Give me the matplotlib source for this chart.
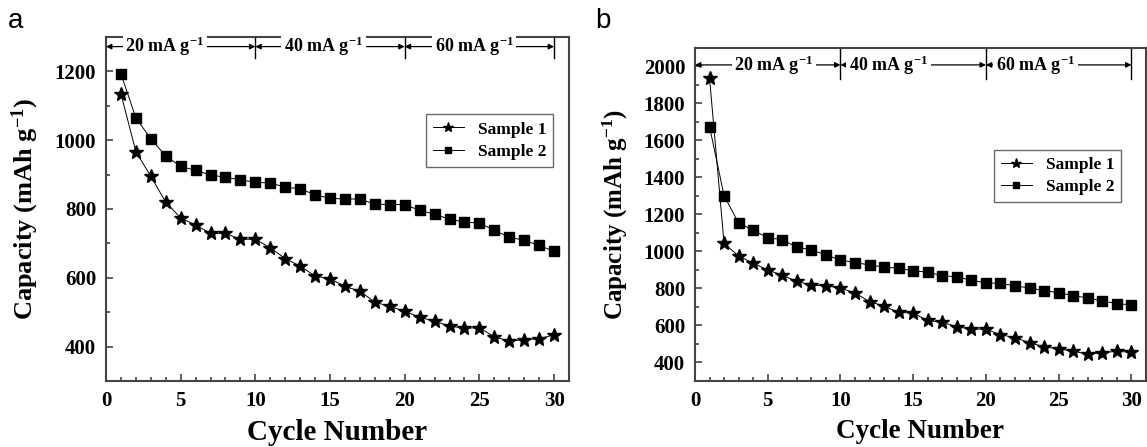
import matplotlib
matplotlib.use("Agg")
import matplotlib.pyplot as plt
from matplotlib.ticker import MultipleLocator

cycles = list(range(1, 31))

a_sample1 = [1135, 967, 895, 820, 774, 753, 729, 729, 712, 712,
             687, 656, 634, 605, 597, 575, 561, 529, 517, 502,
             486, 473, 460, 453, 455, 428, 416, 420, 423, 434]
a_sample2 = [1193, 1065, 1004, 954, 924, 912, 899, 892, 885, 877,
             876, 863, 859, 841, 831, 829, 829, 814, 813, 813,
             796, 785, 770, 762, 759, 738, 718, 709, 694, 677]

b_sample1 = [1937, 1043, 975, 936, 900, 871, 838, 818, 814, 802,
             775, 729, 704, 671, 666, 627, 616, 593, 580, 580,
             550, 534, 507, 484, 473, 461, 445, 452, 461, 454]
b_sample2 = [1674, 1301, 1153, 1114, 1074, 1063, 1022, 1009, 980, 954,
             939, 927, 915, 909, 895, 888, 868, 863, 843, 830,
             827, 814, 802, 788, 777, 761, 748, 732, 718, 711]

rate_labels = ["20 mA g$^{\\mathbf{-1}}$", "40 mA g$^{\\mathbf{-1}}$", "60 mA g$^{\\mathbf{-1}}$"]
rate_bounds = [0, 10, 20, 30]
series_labels = ["Sample 1", "Sample 2"]

SERIF = "Liberation Serif"
plt.rcParams["font.family"] = SERIF
plt.rcParams["mathtext.fontset"] = "custom"
plt.rcParams["mathtext.rm"] = "Liberation Serif:bold"
plt.rcParams["mathtext.it"] = "Liberation Serif:bold"
plt.rcParams["mathtext.bf"] = "Liberation Serif:bold"

fig = plt.figure(figsize=(11.47, 4.47), dpi=100)
ax_a = fig.add_axes([0.0924, 0.1477, 0.4037, 0.7696])
ax_b = fig.add_axes([0.6059, 0.1477, 0.3932, 0.7456])

spine_col = "#444444"


def style(ax, ylim, ymajor, tick_fs, label_fs, xlabel_fs):
    ax.set_xlim(0, 31)
    ax.set_ylim(*ylim)
    ax.xaxis.set_major_locator(MultipleLocator(5))
    ax.xaxis.set_minor_locator(MultipleLocator(1))
    ax.yaxis.set_major_locator(MultipleLocator(ymajor))
    ax.yaxis.set_minor_locator(MultipleLocator(ymajor / 2))
    ax.tick_params(which="both", direction="in", top=False, right=False,
                   color=spine_col, width=1.2)
    ax.tick_params(which="major", length=5, labelsize=tick_fs, pad=7)
    ax.tick_params(which="minor", length=3)
    for lab in ax.get_xticklabels() + ax.get_yticklabels():
        lab.set_fontweight("bold")
    for s in ax.spines.values():
        s.set_color(spine_col)
        s.set_linewidth(1.5)
    ax.set_xlabel("Cycle Number", fontsize=xlabel_fs, fontweight="bold", labelpad=6)
    ax.set_ylabel("Capacity (mAh g$^{\\mathbf{-1}}$)", fontsize=label_fs,
                  fontweight="bold", labelpad=10)


def plot_series(ax, s1, s2, msize_star, msize_sq):
    ax.plot(cycles, s1, color="black", lw=0.7, marker="*", markersize=msize_star,
            label=series_labels[0], zorder=3)
    ax.plot(cycles, s2, color="black", lw=0.7, marker="s", markersize=msize_sq,
            label=series_labels[1], zorder=3)


def rate_annot(ax, yarrow, ybar_bottom, text_x, fs):
    ytop = ax.get_ylim()[1]
    for xb in rate_bounds[1:]:
        ax.plot([xb, xb], [ybar_bottom, ytop], color="black", lw=1.0, zorder=2)
    for i in range(3):
        s, e = rate_bounds[i], rate_bounds[i + 1]
        ax.annotate("", xy=(s, yarrow), xytext=(e, yarrow),
                    arrowprops=dict(arrowstyle="<|-|>", color="black", lw=0.9,
                                    mutation_scale=8, shrinkA=0, shrinkB=0))
        ax.text(text_x[i], yarrow, rate_labels[i], fontsize=fs, fontweight="bold",
                ha="left", va="center",
                bbox=dict(boxstyle="square,pad=0.15", fc="white", ec="none"),
                zorder=4)


# Panel a
plot_series(ax_a, a_sample1, a_sample2, 10.5, 7.5)
style(ax_a, (300, 1300), 200, 15, 19, 21)
rate_annot(ax_a, 1272, 1240, [1.3, 11.9, 22.0], 13)
leg = ax_a.legend(loc="upper left", bbox_to_anchor=(0.672, 0.80), frameon=True,
                  fancybox=False, edgecolor="#444444",
                  prop={"family": SERIF, "weight": "bold", "size": 12.5},
                  handlelength=1.8, borderpad=0.4, labelspacing=0.35, markerscale=0.65)
leg.get_frame().set_linewidth(1.0)

# Panel b
plot_series(ax_b, b_sample1, b_sample2, 10.5, 7.5)
style(ax_b, (300, 2100), 200, 15, 18, 19.5)
rate_annot(ax_b, 2007, 1930, [2.7, 10.6, 20.7], 13)
leg = ax_b.legend(loc="upper left", bbox_to_anchor=(0.643, 0.72), frameon=True,
                  fancybox=False, edgecolor="#444444",
                  prop={"family": SERIF, "weight": "bold", "size": 12.5},
                  handlelength=1.8, borderpad=0.4, labelspacing=0.35, markerscale=0.65)
leg.get_frame().set_linewidth(1.0)

fig.text(0.007, 0.937, "a", fontsize=20, family="Liberation Sans")
fig.text(0.519, 0.937, "b", fontsize=20, family="Liberation Sans")

fig.savefig("out.png", dpi=100)
